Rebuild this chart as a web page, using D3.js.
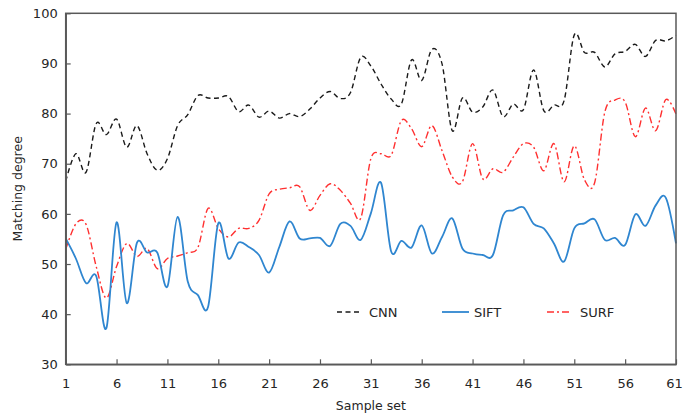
<!DOCTYPE html>
<html lang="en">
<head>
  <meta charset="UTF-8">
  <title>Matching degree</title>
  <script src="https://d3js.org/d3.v7.min.js"></script>
  <style>
    body { margin: 0; background: #fff; }
    svg { font-family: "DejaVu Sans", Verdana, sans-serif; }
    .line { fill: none; }
  </style>
</head>
<body>
  <svg width="683" height="414"></svg>

  <script>
    const samples = d3.range(1, 62);
    const xTicks = [1, 6, 11, 16, 21, 26, 31, 36, 41, 46, 51, 56, 61];
    const yTicks = [30, 40, 50, 60, 70, 80, 90, 100];

    const cnn = [66.5, 72, 68.3, 78, 75.8, 78.9, 73.3, 77.6, 72, 68.7,
                 71, 77.6, 79.8, 83.6, 83.1, 83.1, 83.4, 80.4, 81.7, 79.3,
                 80.5, 79.1, 80, 79.4, 80.9, 83.1, 84.4, 83, 84.2, 91.2,
                 89.5, 85.9, 82.9, 81.9, 90.7, 86.6, 92.8, 89.9, 76.6, 83.1,
                 80.3, 81.3, 84.7, 79.4, 81.9, 80.8, 88.7, 80.6, 81.7, 82.6,
                 95.7, 92.2, 92.2, 89.3, 91.9, 92.4, 93.8, 91.4, 94.6, 94.5, 95.6];

    const sift = [55.1, 51.1, 46.2, 47.6, 37.2, 58.3, 42.2, 54.2, 52.3, 52.3,
                  45.5, 59.4, 46.5, 43.8, 41.5, 58.1, 51.1, 54.3, 53.4, 51.8,
                  48.3, 53.4, 58.5, 55.1, 55.1, 55.2, 53.6, 58, 57.6, 54.8,
                  60.1, 66.2, 52.5, 54.6, 53.3, 57.7, 52.1, 55.4, 59.1, 53.1,
                  52.1, 51.8, 51.8, 59.7, 60.7, 61.3, 58, 57.1, 54.1, 50.5,
                  57.1, 58.1, 58.9, 54.8, 55.2, 53.8, 59.9, 57.6, 61.7, 63.2, 54.1];

    const surf = [52.9, 58, 57.9, 49.5, 43.2, 49.5, 54.1, 51.5, 53.1, 49.1,
                  51.1, 51.6, 52.3, 53.3, 61.1, 57.1, 55.4, 57.1, 57.1, 58.7,
                  64, 64.9, 65.2, 65.4, 60.7, 63.7, 66, 64.7, 62.1, 59.1,
                  71, 72, 71.7, 78.6, 77, 73.4, 77.6, 72.6, 67.4, 66.4,
                  74, 67, 69, 68.3, 71.3, 74, 73.3, 68.6, 74, 66.4,
                  73.6, 66.8, 66.2, 80.3, 82.7, 82.3, 75.4, 81.1, 76.6, 82.8, 79.9];

    const seriesNames = ["CNN", "SIFT", "SURF"];

    const svg = d3.select("svg"),
          width = +svg.attr("width"),
          height = +svg.attr("height");
    const margin = { top: 13.3, right: 7, bottom: 49.7, left: 65.7 };
    const iw = width - margin.left - margin.right,
          ih = height - margin.top - margin.bottom;

    const x = d3.scaleLinear().domain([1, 61]).range([0, iw]);
    const y = d3.scaleLinear().domain([30, 100]).range([ih, 0]);

    const g = svg.append("g").attr("transform", `translate(${margin.left},${margin.top})`);

    const styles = {
      CNN:  { color: "#1a1a1a", width: 1.4, dash: "5,3.5" },
      SIFT: { color: "#2f86d0", width: 1.8, dash: null },
      SURF: { color: "#ff3030", width: 1.4, dash: "7,3,2,3" }
    };
    const data = { CNN: cnn, SIFT: sift, SURF: surf };

    const line = d3.line()
      .x((d, i) => x(samples[i]))
      .y(d => y(d))
      .curve(d3.curveCardinal.tension(0));

    ["SURF", "SIFT", "CNN"].forEach(name => {
      const s = styles[name];
      g.append("path")
        .datum(data[name])
        .attr("class", "line")
        .attr("d", line)
        .attr("stroke", s.color)
        .attr("stroke-width", s.width)
        .attr("stroke-dasharray", s.dash);
    });

    // frame
    g.append("rect")
      .attr("width", iw).attr("height", ih)
      .attr("fill", "none")
      .attr("stroke", "#595959")
      .attr("stroke-width", 1.5);

    // axes, ticks point inward
    const xAxis = g.append("g")
      .attr("transform", `translate(0,${ih})`)
      .call(d3.axisBottom(x).tickValues(xTicks).tickSizeInner(-5).tickSizeOuter(0).tickPadding(14));
    const yAxis = g.append("g")
      .call(d3.axisLeft(y).tickValues(yTicks).tickSizeInner(-5).tickSizeOuter(0).tickPadding(8));

    [xAxis, yAxis].forEach(a => {
      a.select(".domain").attr("stroke", "#595959").attr("stroke-width", 1.5);
      a.selectAll(".tick line").attr("stroke", "#595959").attr("stroke-width", 1.2);
      a.selectAll(".tick text")
        .attr("fill", "#262626")
        .style("font-size", "13px")
        .style("font-family", '"DejaVu Sans", Verdana, sans-serif');
    });
    xAxis.selectAll(".tick text").filter(d => d === 61).attr("dx", "-2");

    // axis titles
    svg.append("text")
      .attr("x", margin.left + iw / 2)
      .attr("y", 410)
      .attr("text-anchor", "middle")
      .attr("fill", "#262626")
      .style("font-size", "12.5px")
      .text("Sample set");

    svg.append("text")
      .attr("transform", `translate(22,${margin.top + ih / 2}) rotate(-90)`)
      .attr("text-anchor", "middle")
      .attr("fill", "#262626")
      .style("font-size", "12.5px")
      .text("Matching degree");

    // legend
    const legendX = [337, 442, 547];
    const legendLen = [25, 27, 25];
    const legendTextX = [369, 474, 580];
    const legend = svg.append("g");
    seriesNames.forEach((name, i) => {
      const s = styles[name];
      legend.append("line")
        .attr("x1", legendX[i]).attr("x2", legendX[i] + legendLen[i])
        .attr("y1", 312).attr("y2", 312)
        .attr("stroke", s.color)
        .attr("stroke-width", s.width)
        .attr("stroke-dasharray", s.dash);
      legend.append("text")
        .attr("x", legendTextX[i])
        .attr("y", 312)
        .attr("dy", "0.36em")
        .attr("fill", "#262626")
        .style("font-size", "13px")
        .text(name);
    });
  </script>
</body>
</html>
